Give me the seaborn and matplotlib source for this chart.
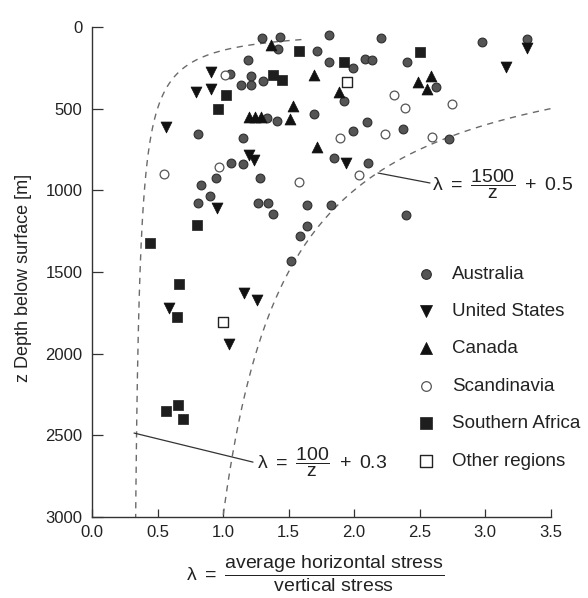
import numpy as np
import pandas as pd
import matplotlib
matplotlib.use("Agg")
import matplotlib.pyplot as plt
import seaborn as sns

# ---------------- data (lambda, depth z [m]) ----------------
aus_lam = [1.295, 1.435, 1.422, 1.715, 1.811, 1.193, 1.807, 1.057, 1.214, 1.305,
           1.135, 1.214, 1.691, 1.334, 1.410, 0.808, 1.154, 1.849, 1.063, 1.149,
           1.282, 0.944, 0.832, 0.901, 0.809, 1.266, 1.346, 1.384, 1.639, 1.821,
           1.641, 1.588, 1.521, 2.205, 2.975, 3.317, 1.990, 2.084, 2.140, 2.408,
           1.924, 2.628, 2.097, 1.992, 2.376, 2.727, 2.107, 2.397]
aus_z = [69, 63, 137, 147, 49, 202, 212, 288, 303, 328,
         355, 355, 530, 559, 573, 655, 680, 799, 835, 836,
         925, 925, 965, 1035, 1080, 1077, 1078, 1147, 1090, 1090,
         1216, 1278, 1433, 69, 92, 73, 248, 198, 199, 216,
         455, 367, 579, 637, 626, 686, 830, 1151]

us_lam = [0.565, 0.912, 0.796, 0.905, 1.197, 1.234, 1.942, 0.954, 1.160, 1.262,
          0.588, 1.046, 3.317, 3.160]
us_z = [615, 276, 401, 378, 784, 817, 833, 1110, 1631, 1672,
        1719, 1943, 130, 243]

can_lam = [1.366, 1.697, 1.883, 1.538, 1.198, 1.244, 1.290, 1.515, 1.715, 2.491,
           2.586, 2.560]
can_z = [110, 294, 398, 481, 554, 554, 554, 566, 735, 334,
         297, 378]

sca_lam = [1.015, 0.972, 0.553, 1.582, 1.893, 2.240, 2.040, 2.305, 2.389, 2.746, 2.599]
sca_z = [291, 855, 901, 952, 678, 655, 906, 415, 493, 472, 675]

saf_lam = [1.582, 1.920, 2.504, 1.384, 1.448, 1.023, 0.960, 0.804, 0.443, 0.666,
           0.647, 0.565, 0.659, 0.697]
saf_z = [149, 212, 150, 294, 325, 416, 505, 1212, 1321, 1574,
         1778, 2350, 2315, 2400]

oth_lam = [1.944, 0.998]
oth_z = [335, 1808]

x_ticks = [0.0, 0.5, 1.0, 1.5, 2.0, 2.5, 3.0, 3.5]
y_ticks = [0, 500, 1000, 1500, 2000, 2500, 3000]

# ---------------- style ----------------
sns.set_style("ticks")
plt.rcParams["font.family"] = ["Liberation Sans", "DejaVu Sans"]
plt.rcParams["mathtext.fontset"] = "custom"
plt.rcParams["mathtext.rm"] = "Liberation Sans"
plt.rcParams["mathtext.it"] = "Liberation Sans"
plt.rcParams["mathtext.bf"] = "Liberation Sans:bold"

fig = plt.figure(figsize=(5.88, 5.98), dpi=100)
ax = fig.add_axes([92 / 588, 1 - 517 / 598, 458.5 / 588, 490 / 598])

# ---------------- envelope curves ----------------
z1 = np.linspace(77, 3000, 400)
z2 = np.linspace(500, 3000, 400)
dash_kw = dict(color="#6a6a6a", lw=1.0, dashes=(4.5, 4.0))
ax.plot(100 / z1 + 0.3, z1, **dash_kw)
ax.plot(1500 / z2 + 0.5, z2, **dash_kw)

# ---------------- data points ----------------
groups = [
    ("Australia", aus_lam, aus_z, "o", 40, "#555555", "#2e2e2e", 0.8),
    ("United States", us_lam, us_z, "v", 62, "#111111", "#111111", 0.5),
    ("Canada", can_lam, can_z, "^", 62, "#111111", "#111111", 0.5),
    ("Scandinavia", sca_lam, sca_z, "o", 40, "white", "#555555", 0.9),
    ("Southern Africa", saf_lam, saf_z, "s", 58, "#1e1e1e", "#1e1e1e", 0.5),
    ("Other regions", oth_lam, oth_z, "s", 58, "white", "#222222", 1.0),
]
for name, lam, z, mk, s, fc, ec, lw in groups:
    df = pd.DataFrame({"lam": lam, "z": z})
    sns.scatterplot(data=df, x="lam", y="z", marker=mk, s=s, color=fc,
                    edgecolor=ec, linewidth=lw, label=name, ax=ax,
                    zorder=3, clip_on=False)

# ---------------- axes ----------------
ax.set_xlim(0, 3.5)
ax.set_ylim(3000, 0)
ax.set_xticks(x_ticks)
ax.set_xticklabels([f"{t:.1f}" for t in x_ticks])
ax.set_yticks(y_ticks)
ax.set_yticklabels([str(t) for t in y_ticks])
for side in ["top", "right"]:
    ax.spines[side].set_visible(False)
for side in ["left", "bottom"]:
    ax.spines[side].set_color("#333333")
    ax.spines[side].set_linewidth(1.0)
ax.tick_params(axis="y", direction="in", length=8, width=0.9, color="#333333",
               labelsize=12, labelcolor="#222222", pad=7)
ax.tick_params(axis="x", direction="in", length=6, width=0.9, color="#333333",
               labelsize=12, labelcolor="#222222", pad=6)
ax.set_xlabel("")
ax.set_ylabel("z Depth below surface [m]", fontsize=13, color="#222222")
ax.yaxis.set_label_coords(-0.131, 0.488)

fig.text(315 / 588, 1 - 574 / 598,
         r"$\lambda\ =\ \dfrac{\mathrm{average\ horizontal\ stress}}{\mathrm{vertical\ stress}}$",
         ha="center", va="center", fontsize=14, color="#222222")

# ---------------- annotations ----------------
ax.plot([0.321, 1.229], [2486, 2664], color="#333333", lw=0.9)
ax.text(1.26, 2664, r"$\lambda\ =\ \dfrac{100}{z}\ +\ 0.3$", ha="left", va="center",
        fontsize=14, color="#222222")
ax.plot([2.183, 2.580], [894, 955], color="#333333", lw=0.9)
ax.text(2.595, 967, r"$\lambda\ =\ \dfrac{1500}{z}\ +\ 0.5$", ha="left", va="center",
        fontsize=14, color="#222222")

# ---------------- legend ----------------
leg = ax.legend(loc="upper left", bbox_to_anchor=(0.7085, 0.556),
                bbox_transform=fig.transFigure, frameon=False, fontsize=13.5,
                handlelength=1.0, handletextpad=0.89, labelspacing=1.08,
                borderpad=0, borderaxespad=0, markerscale=1.1)
for t in leg.get_texts():
    t.set_color("#222222")

fig.savefig("out.png", dpi=100)
